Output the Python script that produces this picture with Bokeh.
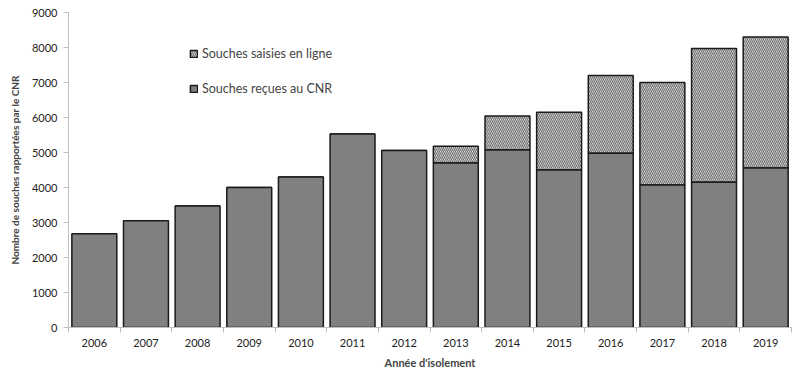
from bokeh.plotting import figure
from bokeh.models import FixedTicker, Range1d, Legend, LegendItem, ColumnDataSource
from bokeh.embed import file_html
from bokeh.resources import INLINE

years = [2006, 2007, 2008, 2009, 2010, 2011, 2012, 2013, 2014, 2015, 2016, 2017, 2018, 2019]
recues = [2680, 3050, 3470, 4000, 4300, 5530, 5060, 4700, 5070, 4500, 4980, 4070, 4150, 4560]
totales = [2680, 3050, 3470, 4000, 4300, 5530, 5060, 5180, 6040, 6150, 7200, 7000, 7970, 8300]
yticks = [0, 1000, 2000, 3000, 4000, 5000, 6000, 7000, 8000, 9000]

src = ColumnDataSource(dict(x=years, rec=recues, tot=totales))

p = figure(width=799, height=371, output_backend="svg", toolbar_location=None,
           x_range=Range1d(years[0] - 0.5, years[-1] + 0.5), y_range=Range1d(0, 9000),
           min_border_left=68, min_border_right=8, min_border_top=12, min_border_bottom=42)
p.outline_line_color = None
p.xgrid.visible = False
p.ygrid.visible = False

font = "Lato"
r_hatch = p.vbar(x="x", bottom="rec", top="tot", width=0.87, source=src,
                 fill_color="white", hatch_pattern="left_diagonal_line", hatch_color="#707070",
                 hatch_scale=4, hatch_weight=1.3, line_color="#1a1a1a", line_width=1.5)
r_bar = p.vbar(x="x", bottom=0, top="rec", width=0.87, source=src,
               fill_color="#808080", line_color="#1a1a1a", line_width=1.5)

p.xaxis.ticker = FixedTicker(ticks=years, minor_ticks=[y - 0.5 for y in years] + [years[-1] + 0.5])
p.xaxis.major_tick_out = 0
p.xaxis.major_tick_in = 0
p.xaxis.minor_tick_out = 5
p.xaxis.minor_tick_in = 0
p.xaxis.minor_tick_line_color = "#bfbfbf"
p.xaxis.axis_line_color = "#bfbfbf"
p.xaxis.major_label_overrides = {y: str(y) for y in years}
p.xaxis.axis_label = "Année d'isolement"
p.xaxis.axis_label_text_font = font
p.xaxis.axis_label_text_font_style = "bold"
p.xaxis.axis_label_text_font_size = "11px"
p.xaxis.major_label_text_font = font
p.xaxis.major_label_text_font_size = "11px"
p.xaxis.major_label_text_color = "#222222"
p.xaxis.major_label_standoff = 6
p.xaxis.axis_label_standoff = 6

p.yaxis.ticker = FixedTicker(ticks=yticks)
p.yaxis.minor_tick_line_color = None
p.yaxis.major_tick_out = 5
p.yaxis.major_tick_in = 0
p.yaxis.major_tick_line_color = "#bfbfbf"
p.yaxis.axis_line_color = "#bfbfbf"
p.yaxis.axis_label = "Nombre de souches rapportées par le CNR"
p.yaxis.axis_label_text_font = font
p.yaxis.axis_label_text_font_style = "bold"
p.yaxis.axis_label_text_font_size = "10px"
p.yaxis.major_label_text_font = font
p.yaxis.major_label_text_font_size = "11px"
p.yaxis.major_label_text_color = "#222222"
p.yaxis.major_label_standoff = 6
p.yaxis.axis_label_standoff = 8

legend = Legend(items=[LegendItem(label="Souches saisies en ligne", renderers=[r_hatch]),
                       LegendItem(label="Souches reçues au CNR", renderers=[r_bar])],
                location=(121, 231), label_text_font=font, label_text_font_size="12.5px",
                glyph_width=9, glyph_height=9, spacing=20, label_standoff=4,
                border_line_color=None, background_fill_alpha=0, padding=0, margin=0)
p.add_layout(legend, "center")

open("out.html", "w").write(file_html(p, INLINE))
